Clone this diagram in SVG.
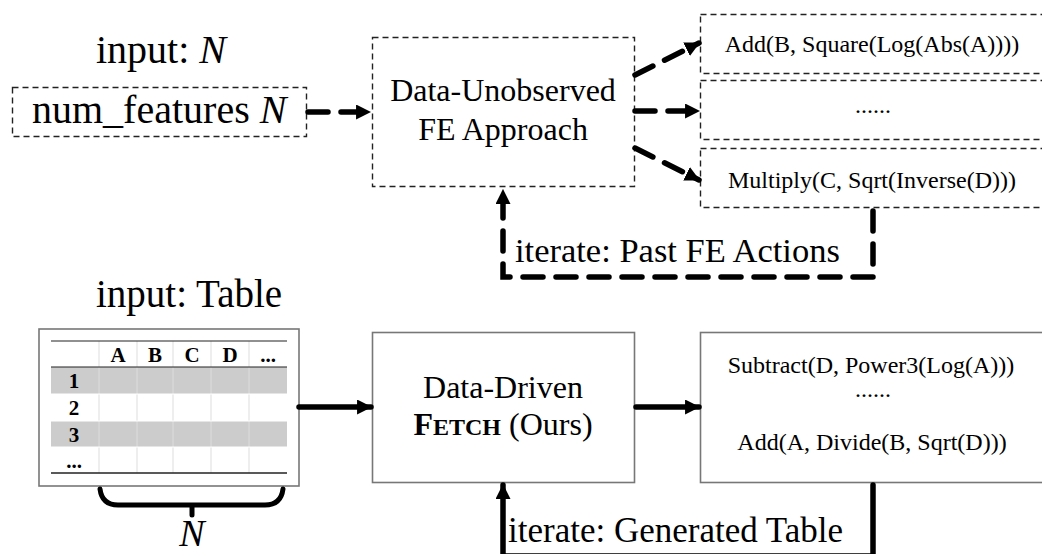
<svg xmlns="http://www.w3.org/2000/svg" width="1042" height="554" viewBox="0 0 1042 554">
  <style>
    .t { font-family: "Liberation Serif", "Times New Roman", serif; fill: #000; }
    .dbox { fill: none; stroke: #222; stroke-width: 1.4; stroke-dasharray: 6 4; }
    .sbox { fill: #fff; stroke: #777; stroke-width: 1.6; }
    .dflow { fill: none; stroke: #000; stroke-width: 5.5; stroke-dasharray: 20 13; stroke-linecap: round; }
    .sflow { fill: none; stroke: #000; stroke-width: 5.5; stroke-linecap: round; }
    .grid { stroke: #ddd; stroke-width: 1; }
    .th { font-family: "Liberation Serif", "Times New Roman", serif; font-weight: bold; font-size: 21px; text-anchor: middle; }
  </style>
  <defs>
    <marker id="head" viewBox="0 0 14 14" refX="13" refY="7" markerWidth="15" markerHeight="15" markerUnits="userSpaceOnUse" orient="auto">
      <path d="M0,0 L14,7 L0,14 Z" fill="#000"/>
    </marker>
  </defs>

  <rect width="1042" height="554" fill="#fff"/>

  <!-- top row: data-unobserved pipeline -->
  <g id="input-n">
    <text class="t" x="96" y="63" font-size="40">input: <tspan font-style="italic">N</tspan></text>
  </g>
  <g id="num-features">
    <rect class="dbox" x="12.5" y="87.5" width="294" height="49"/>
    <text class="t" x="32" y="123" font-size="40">num_features <tspan font-style="italic">N</tspan></text>
  </g>
  <g id="unobserved">
    <rect class="dbox" x="372.5" y="37.5" width="262" height="149"/>
    <text class="t" x="503" y="101" font-size="32" text-anchor="middle">Data-Unobserved</text>
    <text class="t" x="503" y="140" font-size="32" text-anchor="middle">FE Approach</text>
  </g>
  <g id="action-1">
    <rect class="dbox" x="700.5" y="14.5" width="360" height="59"/>
    <text class="t" x="872" y="52" font-size="24" text-anchor="middle">Add(B, Square(Log(Abs(A))))</text>
  </g>
  <g id="action-dots">
    <rect class="dbox" x="700.5" y="80.5" width="360" height="59"/>
    <text class="t" x="873" y="113" font-size="24" text-anchor="middle">......</text>
  </g>
  <g id="action-n">
    <rect class="dbox" x="700.5" y="148.5" width="360" height="59"/>
    <text class="t" x="872" y="188" font-size="24" text-anchor="middle">Multiply(C, Sqrt(Inverse(D)))</text>
  </g>

  <!-- bottom row: data-driven pipeline -->
  <g id="input-table">
    <text class="t" x="96" y="307" font-size="39">input: Table</text>
  </g>
  <g id="table">
    <rect x="39" y="329" width="260" height="157" fill="#fff" stroke="#777" stroke-width="1.6"/>
    <rect x="51" y="367" width="236" height="27" fill="#ccc"/>
    <rect x="51" y="421" width="236" height="26" fill="#ccc"/>
    <g class="grid">
      <line x1="99" y1="341" x2="99" y2="473"/>
      <line x1="137" y1="341" x2="137" y2="473"/>
      <line x1="173" y1="341" x2="173" y2="473"/>
      <line x1="211" y1="341" x2="211" y2="473"/>
      <line x1="249" y1="341" x2="249" y2="473"/>
      <line x1="51" y1="394" x2="287" y2="394" stroke="#fff"/>
      <line x1="51" y1="421" x2="287" y2="421" stroke="#fff"/>
      <line x1="51" y1="447" x2="287" y2="447" stroke="#fff"/>
    </g>
    <line x1="51" y1="341" x2="287" y2="341" stroke="#222" stroke-width="1.2"/>
    <line x1="51" y1="367" x2="287" y2="367" stroke="#222" stroke-width="1.2"/>
    <line x1="51" y1="473" x2="287" y2="473" stroke="#222" stroke-width="1.6"/>
    <text class="th" x="118" y="362">A</text>
    <text class="th" x="155" y="362">B</text>
    <text class="th" x="192" y="362">C</text>
    <text class="th" x="230" y="362">D</text>
    <text class="th" x="268" y="362">...</text>
    <text class="th" x="74" y="388">1</text>
    <text class="th" x="74" y="415">2</text>
    <text class="th" x="74" y="442">3</text>
    <text class="th" x="74" y="468">...</text>
  </g>
  <g id="brace">
    <path d="M100,489 Q102,505 118,505 L265,505 Q281,505 283,489 M192,505 L192,515" fill="none" stroke="#000" stroke-width="5" stroke-linecap="round"/>
    <text class="t" x="192" y="546" font-size="38" font-style="italic" text-anchor="middle">N</text>
  </g>
  <g id="fetch">
    <rect class="sbox" x="372.5" y="332.5" width="262" height="150"/>
    <text class="t" x="503" y="398" font-size="32" text-anchor="middle">Data-Driven</text>
    <text class="t" x="503" y="435" font-size="32" text-anchor="middle"><tspan font-weight="bold">F<tspan font-size="24">ETCH</tspan></tspan> (Ours)</text>
  </g>
  <g id="generated">
    <rect class="sbox" x="700.5" y="332.5" width="360" height="150"/>
    <text class="t" x="871" y="373" font-size="24" text-anchor="middle">Subtract(D, Power3(Log(A)))</text>
    <text class="t" x="873" y="397" font-size="24" text-anchor="middle">......</text>
    <text class="t" x="872" y="450" font-size="24" text-anchor="middle">Add(A, Divide(B, Sqrt(D)))</text>
  </g>

  <!-- connectors -->
  <g id="connectors">
    <line class="dflow" x1="308" y1="112" x2="370" y2="112" marker-end="url(#head)"/>
    <line class="dflow" x1="635" y1="75" x2="699" y2="43" marker-end="url(#head)"/>
    <line class="dflow" x1="635" y1="111" x2="699" y2="111" marker-end="url(#head)"/>
    <line class="dflow" x1="635" y1="148" x2="699" y2="180" marker-end="url(#head)"/>
    <path class="dflow" d="M873,211 L873,277 L503,277 L503,190" marker-end="url(#head)"/>
    <text class="t" x="515" y="262" font-size="34.5">iterate: Past FE Actions</text>

    <line class="sflow" x1="299" y1="407" x2="371" y2="407" marker-end="url(#head)"/>
    <line class="sflow" x1="636" y1="407" x2="699" y2="407" marker-end="url(#head)"/>
    <path class="sflow" d="M873,485 L873,556 L503,556 L503,485" marker-end="url(#head)"/>
    <text class="t" x="508" y="542" font-size="35">iterate: Generated Table</text>
  </g>
</svg>
